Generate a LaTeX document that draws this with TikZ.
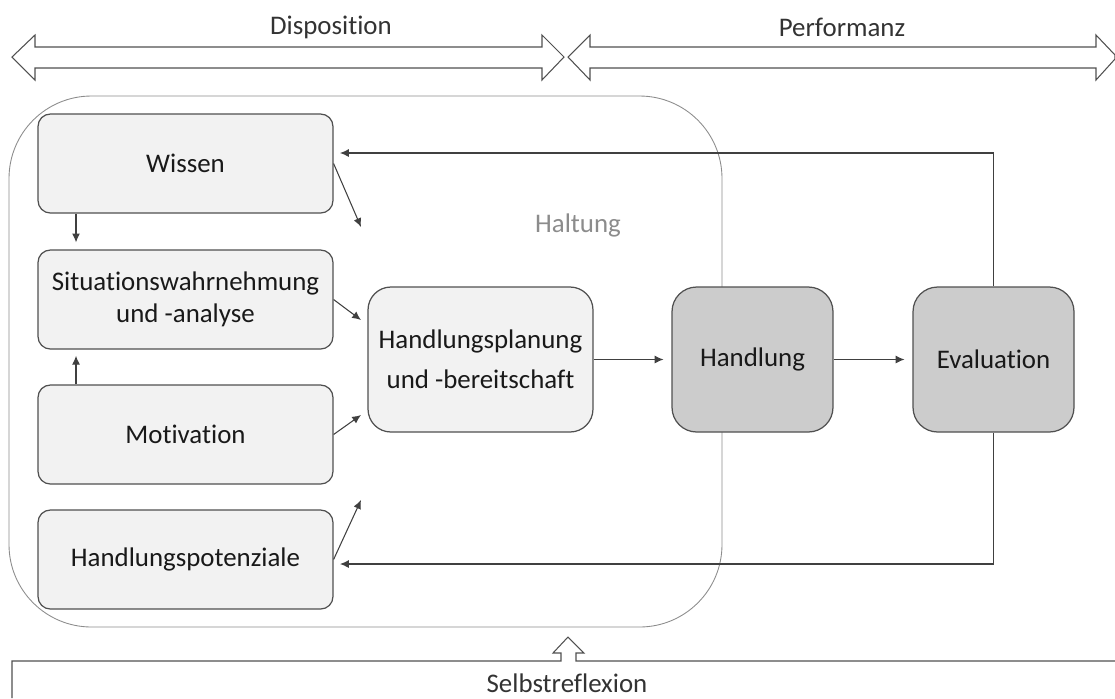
\documentclass[tikz,border=0pt]{standalone}
\usepackage{fontspec}
\setmainfont{Carlito}[Ligatures=NoCommon]
\usepackage{xcolor}
\usetikzlibrary{arrows.meta}

\definecolor{boxline}{HTML}{505050}
\definecolor{lightfill}{HTML}{F2F2F2}
\definecolor{darkfill}{HTML}{CCCCCC}
\definecolor{arrowgray}{HTML}{404040}
\definecolor{haltgray}{HTML}{8C8C8C}

\begin{document}
\begin{tikzpicture}[x=0.02cm, y=-0.02cm,
      every node/.style = {font=\fontsize{15.3}{18}\selectfont, text=black!90},
      box/.style = {shape=rectangle, draw=boxline, line width=0.7pt,
        align=center, inner sep=0pt},
      smallbox/.style = {box, fill=lightfill, rounded corners=7pt,
        minimum width=5.9cm, minimum height=1.98cm},
      planbox/.style = {box, fill=lightfill, rounded corners=13pt,
        minimum width=4.5cm, minimum height=2.9cm},
      actbox/.style = {box, fill=darkfill, rounded corners=14pt,
        minimum width=3.22cm, minimum height=2.9cm},
      arr/.style = {draw=arrowgray, line width=0.6pt,
        -{Latex[length=5pt, width=4.5pt]}},
      bigarrow/.style = {draw=boxline, line width=0.6pt, fill=white}]
      \useasboundingbox (0,0) rectangle (1115,698);
      \draw[bigarrow] (12,57) -- (35,35) -- (35,47) -- (542,47) -- (542,35) -- (564,57)
        -- (542,80) -- (542,68) -- (35,68) -- (35,80) -- cycle;
      \draw[bigarrow] (568,57) -- (590,35) -- (590,47) -- (1096,47) -- (1096,35) -- (1115,55)
        -- (1115,59) -- (1096,80) -- (1096,68) -- (590,68) -- (590,80) -- cycle;
      \node[text=black!80] (disp) at (331,27) {Disposition};
      \node[text=black!80] (perf) at (842,27) {Performanz};
      \draw[draw=haltgray, line width=0.5pt, rounded corners=1.65cm] (9,96) rectangle (722,627);
      \node[text=haltgray] (haltung) at (578,225) {Haltung};
      \node[smallbox] (wissen) at (185.5,163.5) {Wissen};
      \node[smallbox] (situation) at (185.5,299.5) {Situationswahrnehmung\\und -analyse};
      \node[smallbox] (motivation) at (185.5,434.5) {Motivation};
      \node[smallbox] (potenziale) at (185.5,559.5) {Handlungspotenziale};
      \node[planbox, font=\fontsize{15.3}{22.5}\selectfont] (planung) at (480.5,359.5)
        {Handlungsplanung\\und -bereitschaft};
      \node[actbox] (handlung) at (752.5,359.5) {Handlung};
      \node[actbox] (evaluation) at (993.5,359.5) {Evaluation};
      \coordinate (wissenend) at (361,227);
      \coordinate (situationend) at (361,320);
      \coordinate (motivationend) at (361,415);
      \coordinate (potenzialeend) at (361,500);
      \coordinate (fbtop) at (340,153);
      \coordinate (fbbottom) at (340,564);
      \draw[arr, shorten >=4pt] ([xshift=-2.19cm]wissen.south) -- ([xshift=-2.19cm]situation.north);
      \draw[arr, shorten >=3.5pt] ([xshift=-2.19cm]motivation.north) -- ([xshift=-2.19cm]situation.south);
      \draw[arr] (wissen.east) -- (wissenend);
      \draw[arr] (situation.east) -- (situationend);
      \draw[arr] (motivation.east) -- (motivationend);
      \draw[arr] (potenziale.east) -- (potenzialeend);
      \draw[arr, shorten >=4.5pt] (planung.east) -- (handlung.west);
      \draw[arr, shorten >=4.5pt] (handlung.east) -- (evaluation.west);
      \draw[arr] (evaluation.north) |- (fbtop);
      \draw[arr] (evaluation.south) |- (fbbottom);
      \draw[draw=boxline, line width=0.6pt] (12,698) -- (12,661) -- (561,661) -- (561,653)
        -- (553,653) -- (568,637) -- (584,653) -- (576,653) -- (576,661) -- (1115,661);
      \node[text=black!80] (selbst) at (567,683) {Selbstreflexion};
\end{tikzpicture}
\end{document}
